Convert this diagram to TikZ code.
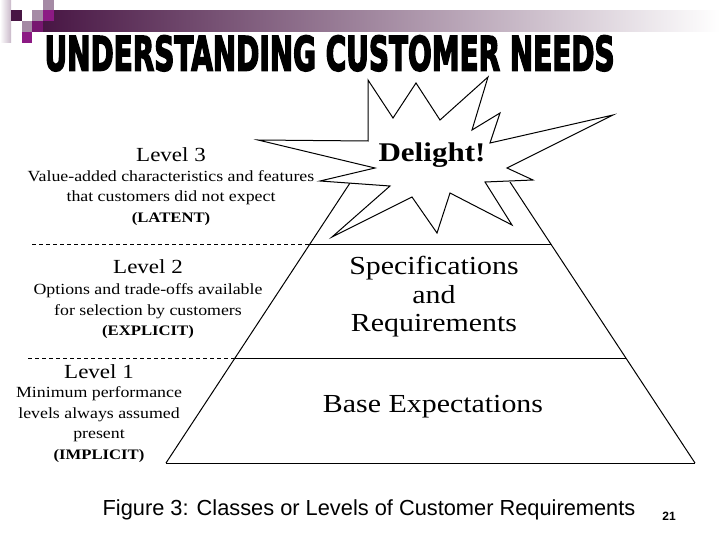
\documentclass[tikz,border=0pt]{standalone}
\usepackage{graphicx}
\usepackage{fontspec}
\setmainfont{Liberation Serif}[FakeStretch=1.15]
\newfontfamily\capfont{Liberation Sans}
\newfontfamily\headfont{DejaVu Sans}[FakeBold=4]
\definecolor{plumdark}{RGB}{72,22,68}
\definecolor{plummid}{RGB}{140,26,132}
\definecolor{lilac}{RGB}{165,138,165}
\definecolor{barmid}{RGB}{178,170,178}

\begin{document}
\begin{tikzpicture}[x=1pt,y=-1pt,line width=1pt,
  lvl/.style={font=\fontsize{20}{22}\selectfont},
  desc/.style={align=center,font=\fontsize{15.5}{20.5}\selectfont},
  tier/.style={align=center,font=\fontsize{26}{28.5}\selectfont}]
\useasboundingbox (0,0) rectangle (720,540);
% slide decoration
\shade[left color=plumdark,middle color=barmid,right color=white] (43,11) rectangle (720,32);
\shade[left color=white,right color=lilac!60] (0,0) rectangle (11,43);
\fill[plumdark] (11,10) rectangle (22,21);
\fill[lilac] (32,10) rectangle (43,21);
\fill[lilac] (43,0) rectangle (54,10);
\fill[plummid] (43,10) rectangle (54,21);
\fill[lilac] (22,21) rectangle (32,32);
\fill[plummid!85!black] (32,21) rectangle (43,32);
\fill[plummid] (22,32) rectangle (32,43);
% title
\node[anchor=north west,inner sep=0] (title) at (44,35) {\resizebox{570pt}{35pt}{\headfont\bfseries UNDERSTANDING CUSTOMER NEEDS}};
% pyramid
\coordinate (bl) at (166,463);
\coordinate (br) at (695,463);
\coordinate (tl) at (350,183);
\coordinate (tr) at (510,182);
\draw (bl) -- (br);
\draw (bl) -- (tl);
\draw (br) -- (tr);
\draw (310,244) -- (551,244);
\draw (235,358) -- (626,358);
\draw[dash pattern=on 4pt off 3pt] (32,244) -- (310,244);
\draw[dash pattern=on 4pt off 3pt] (28,358) -- (235,358);
% burst
\filldraw[fill=white] (368,80) -- (393,118) -- (416,83) -- (440,120) -- (488,77)
  -- (472,130) -- (500,113) -- (490,143) -- (613,115) -- (507,168) -- (533,180)
  -- (485,182) -- (512,225) -- (450,193) -- (437,233) -- (412,197) -- (332,237)
  -- (390,186) -- (320,181) -- (375,168) -- (258,140) -- (368,141) -- cycle;
% tiers
\node[tier,font=\fontsize{27}{28}\selectfont\bfseries] (delight) at (432,155) {Delight!};
\node[tier] (spec) at (434,297) {Specifications\\and\\Requirements};
\node[tier] (base) at (433,407) {Base Expectations};
% level texts
\node[lvl] (lv3) at (171,155) {Level 3};
\node[desc] (d3) at (171,198) {Value-added characteristics and features\\that customers did not expect\\{\bfseries\fontsize{14.5}{16}\selectfont(LATENT)}};
\node[lvl] (lv2) at (148,267) {Level 2};
\node[desc] (d2) at (148,311.5) {Options and trade-offs available\\for selection by customers\\{\bfseries\fontsize{14.5}{16}\selectfont(EXPLICIT)}};
\node[lvl] (lv1) at (99,372) {Level 1};
\node[desc] (d1) at (99,424.5) {Minimum performance\\levels always assumed\\present\\{\bfseries\fontsize{14.5}{16}\selectfont(IMPLICIT)}};
% caption
\node[font=\capfont\fontsize{21.8}{24}\selectfont] (caption) at (369,510) {Figure 3: Classes or Levels of Customer Requirements};
\node[font=\capfont\bfseries\fontsize{12}{14}\selectfont] (pageno) at (669,516) {21};
\end{tikzpicture}
\end{document}
